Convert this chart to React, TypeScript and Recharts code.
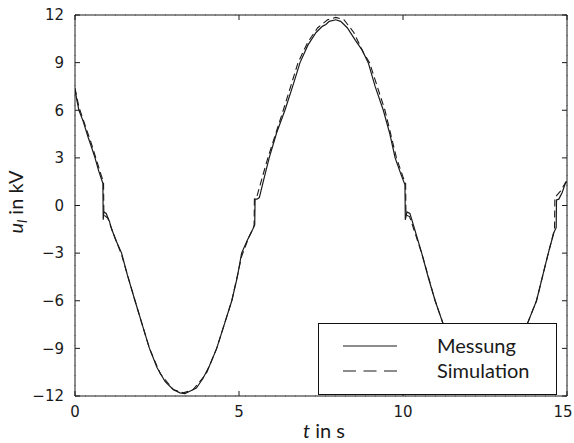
import React from 'react';
import { LineChart, Line, XAxis, YAxis, CartesianGrid, Legend, Label } from 'recharts';

const measuredT = [0, 0.06, 0.12, 0.25, 0.4, 0.5, 0.61, 0.72, 0.8, 0.85, 0.86, 0.88, 0.95, 1.05, 1.12, 1.25, 1.42, 1.6, 1.83, 2.05, 2.27, 2.5, 2.75, 3.0, 3.2, 3.35, 3.5, 3.7, 3.9, 4.1, 4.32, 4.55, 4.78, 4.95, 5.08, 5.25, 5.42, 5.48, 5.49, 5.55, 5.62, 5.75, 5.92, 6.15, 6.4, 6.65, 6.86, 7.1, 7.35, 7.55, 7.65, 7.75, 7.95, 8.1, 8.3, 8.55, 8.75, 8.94, 9.15, 9.4, 9.6, 9.76, 9.95, 10.06, 10.07, 10.12, 10.21, 10.4, 10.57, 10.78, 10.98, 11.23, 11.5, 11.8, 12.1, 12.4, 12.7, 13.0, 13.3, 13.6, 13.82, 14.07, 14.25, 14.43, 14.6, 14.67, 14.68, 14.75, 14.85, 14.95, 15];
const measuredU = [7.3, 6.6, 6.0, 5.3, 4.3, 3.7, 3.0, 2.2, 1.7, 1.4, -0.9, -0.4, -0.5, -1.0, -1.5, -2.2, -3.0, -4.4, -6.0, -7.5, -9.0, -10.2, -11.1, -11.6, -11.8, -11.85, -11.7, -11.5, -10.9, -10.1, -9.0, -7.5, -6.0, -4.5, -3.0, -2.2, -1.5, -1.2, 0.4, 0.4, 0.5, 1.6, 3.0, 4.6, 6.0, 7.6, 9.0, 10.1, 10.9, 11.3, 11.4, 11.6, 11.7, 11.6, 11.2, 10.4, 9.8, 9.0, 7.5, 6.0, 4.5, 3.0, 1.9, 1.3, -0.9, -0.4, -0.5, -1.8, -3.0, -4.6, -6.0, -7.5, -9.3, -10.8, -11.6, -11.9, -11.7, -11.0, -9.8, -8.3, -7.3, -6.0, -4.5, -3.0, -1.7, -1.4, 0.35, 0.4, 0.8, 1.4, 1.5];

const simT = [0, 0.12, 0.3, 0.5, 0.65, 0.8, 0.87, 0.88, 1.0, 1.12, 1.42, 1.83, 2.27, 2.6, 3.0, 3.3, 3.6, 4.0, 4.32, 4.78, 5.08, 5.3, 5.46, 5.47, 5.55, 5.7, 5.88, 6.35, 6.8, 7.1, 7.4, 7.7, 7.95, 8.2, 8.5, 8.8, 8.98, 9.45, 9.8, 10.0, 10.08, 10.09, 10.2, 10.57, 10.98, 11.3, 11.6, 12.0, 12.4, 12.8, 13.2, 13.5, 13.8, 14.07, 14.43, 14.62, 14.63, 14.8, 15];
const simU = [7.4, 6.2, 5.1, 3.9, 2.9, 1.9, 1.5, -0.6, -0.8, -1.5, -3.1, -6.0, -9.0, -10.6, -11.6, -11.8, -11.6, -10.6, -9.0, -6.0, -3.2, -2.0, -1.3, 0.5, 0.6, 1.7, 3.0, 6.0, 9.0, 10.3, 11.2, 11.7, 11.85, 11.7, 10.9, 9.6, 9.0, 6.0, 3.0, 1.8, 1.4, -0.6, -0.7, -3.0, -6.0, -7.9, -9.7, -11.3, -11.9, -11.6, -10.3, -8.9, -7.4, -6.0, -3.0, -1.5, 0.5, 0.9, 1.6];

const xTicks = [0, 5, 10, 15];
const yTicks = [-12, -9, -6, -3, 0, 3, 6, 9, 12];
const seriesNames = ['Messung', 'Simulation'];

const measured = measuredT.map((t, i) => ({ t, u: measuredU[i] }));
const simulated = simT.map((t, i) => ({ t, u: simU[i] }));

const FONT = 'Lato, sans-serif';
const TICKFONT = '"DejaVu Sans", sans-serif';
const INK = '#1a1a1a';

const fmt = (v: number) => (v < 0 ? '\u2212' + Math.abs(v) : String(v));

const XTick = (props: any) => {
  const { x, y, payload } = props;
  const cx = Math.min(x, 563);
  return (
    <text x={cx} y={y} dy="0.71em" textAnchor="middle" fontSize={15} fill={INK} fontFamily={TICKFONT}>
      {fmt(payload.value)}
    </text>
  );
};

const LegendBox = () => (
  <div style={{ width: 239, height: 72, boxSizing: 'border-box', border: '1px solid #111', background: '#fff', position: 'relative', fontFamily: FONT }}>
    <svg width={237} height={70} style={{ position: 'absolute', left: 0, top: 0 }}>
      <line x1={24} x2={78} y1={22} y2={22} stroke={INK} strokeWidth={1.2} />
      <line x1={24} x2={78} y1={47} y2={47} stroke={INK} strokeWidth={1.2} strokeDasharray="13 7.5" />
      <text x={118} y={29} fontSize={20} fill={INK} fontFamily={FONT}>{seriesNames[0]}</text>
      <text x={118} y={54} fontSize={20} fill={INK} fontFamily={FONT}>{seriesNames[1]}</text>
    </svg>
  </div>
);

export default function App() {
  return (
    <div style={{ position: 'absolute', left: 0, top: 0, width: 574, height: 443, background: '#fff' }}>
      <LineChart width={574} height={443} margin={{ top: 14, right: 6, bottom: 0, left: 0 }}>
        <CartesianGrid stroke="#888" strokeDasharray="1 9" />
        <XAxis
          xAxisId="b"
          dataKey="t"
          type="number"
          domain={[0, 15]}
          ticks={xTicks}
          height={47}
          allowDataOverflow
          tickSize={-5}
          tickMargin={15}
          stroke={INK}
          tick={<XTick />}
        >
          <Label
            content={() => (
              <text x={324} y={438} textAnchor="middle" fontSize={20} fill={INK} fontFamily={FONT}>
                <tspan fontStyle="italic">t</tspan>
                <tspan> in s</tspan>
              </text>
            )}
          />
        </XAxis>
        <XAxis
          xAxisId="top"
          orientation="top"
          dataKey="t"
          type="number"
          domain={[0, 15]}
          ticks={xTicks}
          height={1}
          allowDataOverflow
          tickSize={-5}
          tickFormatter={() => ''}
          stroke={INK}
        />
        <YAxis
          yAxisId="l"
          type="number"
          domain={[-12, 12]}
          ticks={yTicks}
          width={75}
          allowDataOverflow
          tickSize={-5}
          tickMargin={16}
          tickFormatter={fmt}
          stroke={INK}
          tick={{ fill: INK, fontSize: 15, fontFamily: TICKFONT }}
        >
          <Label
            content={() => (
              <text x={23} y={202} textAnchor="middle" fontSize={20} fill={INK} fontFamily={FONT} transform="rotate(-90 23 202)">
                <tspan fontStyle="italic">u</tspan>
                <tspan fontStyle="italic" fontSize={14} dy={4}>l</tspan>
                <tspan dy={-4}> in kV</tspan>
              </text>
            )}
          />
        </YAxis>
        <YAxis
          yAxisId="r"
          orientation="right"
          type="number"
          domain={[-12, 12]}
          ticks={yTicks}
          width={1}
          allowDataOverflow
          tickSize={-5}
          tickFormatter={() => ''}
          stroke={INK}
        />
        <Line
          xAxisId="top"
          yAxisId="r"
          data={measured}
          dataKey="u"
          stroke="none"
          dot={false}
          legendType="none"
          isAnimationActive={false}
        />
        <Line
          xAxisId="b"
          yAxisId="l"
          data={simulated}
          dataKey="u"
          name={seriesNames[1]}
          stroke={INK}
          strokeWidth={1.1}
          strokeDasharray="7 4"
          dot={false}
          isAnimationActive={false}
        />
        <Line
          xAxisId="b"
          yAxisId="l"
          data={measured}
          dataKey="u"
          name={seriesNames[0]}
          stroke={INK}
          strokeWidth={1.2}
          dot={false}
          isAnimationActive={false}
        />
        <Legend
          layout="horizontal"
          verticalAlign="middle"
          align="center"
          content={() => <LegendBox />}
          wrapperStyle={{ position: 'absolute', left: 318, top: 323, width: 239, height: 72, bottom: 'auto', right: 'auto' }}
        />
      </LineChart>
    </div>
  );
}
